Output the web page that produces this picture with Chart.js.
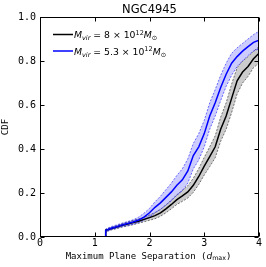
<!DOCTYPE html>
<html><head><meta charset="utf-8">
<script src="https://cdn.jsdelivr.net/npm/chart.js@4"></script>
<style>html,body{margin:0;padding:0;background:#fff;}canvas{display:block;}</style>
</head><body>
<canvas id="c" width="266" height="267" style="width:266px;height:267px"></canvas>
<script>
// ---- data ----
const chartTitle = 'NGC4945';
const xTicks = [0, 1, 2, 3, 4];
const yTicks = [0.0, 0.2, 0.4, 0.6, 0.8, 1.0];
const xs = [1.2,1.2,1.3,1.4,1.5,1.6,1.7,1.8,1.9,2.0,2.1,2.2,2.3,2.4,2.5,2.6,2.7,2.8,2.9,3.0,3.1,3.2,3.3,3.4,3.5,3.6,3.7,3.8,3.9,4.0];
const blackMid  = [0.0,0.03,0.038,0.045,0.053,0.059,0.066,0.072,0.080,0.088,0.097,0.110,0.128,0.148,0.170,0.187,0.205,0.235,0.275,0.322,0.365,0.410,0.490,0.550,0.630,0.710,0.750,0.775,0.810,0.835];
const blackLow  = [0.0,0.025,0.032,0.038,0.045,0.050,0.056,0.062,0.069,0.076,0.083,0.094,0.110,0.128,0.148,0.162,0.177,0.203,0.239,0.282,0.320,0.360,0.435,0.490,0.565,0.650,0.700,0.730,0.770,0.790];
const blackHigh = [0.0,0.035,0.044,0.052,0.061,0.068,0.076,0.082,0.091,0.100,0.111,0.126,0.146,0.168,0.192,0.212,0.233,0.267,0.311,0.362,0.410,0.460,0.545,0.610,0.695,0.770,0.800,0.820,0.845,0.865];
const blueMid   = [0.0,0.03,0.040,0.047,0.055,0.061,0.068,0.077,0.090,0.110,0.135,0.155,0.180,0.205,0.235,0.260,0.300,0.370,0.410,0.470,0.550,0.610,0.680,0.740,0.790,0.820,0.845,0.865,0.885,0.895];
const blueLow   = [0.0,0.022,0.033,0.040,0.047,0.052,0.058,0.066,0.076,0.090,0.110,0.125,0.145,0.165,0.190,0.210,0.245,0.310,0.350,0.410,0.490,0.550,0.620,0.685,0.735,0.775,0.800,0.825,0.845,0.855];
const blueHigh  = [0.0,0.036,0.047,0.055,0.063,0.070,0.078,0.090,0.108,0.130,0.160,0.185,0.215,0.245,0.280,0.310,0.355,0.425,0.470,0.530,0.610,0.670,0.735,0.790,0.835,0.860,0.880,0.900,0.920,0.935];
const seriesMass = ['8', '5.3'];
const seriesColors = ['#000000', '#0000ff'];

const pts = arr => xs.map((x, i) => ({x, y: arr[i]}));
const monoFont = '"DejaVu Sans Mono"';
const sansFont = '"DejaVu Sans"';

function richWidth(ctx, pieces){
  let w = 0;
  for (const p of pieces){ ctx.font = (p.it?'italic ':'') + p.size + 'px ' + p.fam; w += ctx.measureText(p.t).width; }
  return w;
}
function drawRich(ctx, pieces, x, base){
  for (const p of pieces){
    ctx.font = (p.it?'italic ':'') + p.size + 'px ' + p.fam;
    ctx.fillText(p.t, x, base + (p.dy||0));
    x += ctx.measureText(p.t).width;
  }
  return x;
}
function legendPieces(m){
  return [
    {t:'M', it:1, size:9.3, fam:sansFont},
    {t:'vir', it:1, size:6.5, fam:sansFont, dy:2},
    {t:' = ' + m + ' \u00d7 10', size:9.3, fam:sansFont},
    {t:'12', size:6.5, fam:sansFont, dy:-3.8},
    {t:'M', it:1, size:9.3, fam:sansFont},
    {t:'\u2299', size:6.5, fam:sansFont, dy:2}
  ];
}

const deco = {
  id: 'deco',
  afterDraw(chart){
    const {ctx, chartArea: a, scales: {x, y}} = chart;
    ctx.save();
    ctx.strokeStyle = '#000'; ctx.lineWidth = 1;
    const L = Math.round(a.left)+0.5, R = Math.round(a.right)-0.5, T = Math.round(a.top)+0.5, B = Math.round(a.bottom)-0.5;
    ctx.strokeRect(L, T, R-L, B-T);
    ctx.beginPath();
    for (const v of xTicks){
      const px = Math.round(x.getPixelForValue(v))+0.5;
      ctx.moveTo(px, B); ctx.lineTo(px, B-4);
      ctx.moveTo(px, T); ctx.lineTo(px, T+4);
    }
    for (const v of yTicks){
      const py = Math.round(y.getPixelForValue(v))+0.5;
      ctx.moveTo(L, py); ctx.lineTo(L+4, py);
      ctx.moveTo(R, py); ctx.lineTo(R-4, py);
    }
    ctx.stroke();
    ctx.fillStyle = '#000';
    // title
    ctx.font = '11.5px ' + sansFont; ctx.textAlign = 'center'; ctx.textBaseline = 'alphabetic';
    const cx = (a.left + a.right)/2;
    ctx.fillText(chartTitle, cx, 12.8);
    ctx.textAlign = 'left';
    // x label
    const xl = [
      {t:'Maximum Plane Separation (', size:9, fam:monoFont},
      {t:'d', it:1, size:9, fam:sansFont},
      {t:'max', size:6.3, fam:sansFont, dy:1.8},
      {t:')', size:9, fam:monoFont}
    ];
    drawRich(ctx, xl, cx - richWidth(ctx, xl)/2 - 1, 258.5);
    // y label
    ctx.save();
    ctx.translate(5.5, (a.top + a.bottom)/2);
    ctx.rotate(-Math.PI/2);
    ctx.font = '9px ' + monoFont; ctx.textAlign = 'center'; ctx.textBaseline = 'middle';
    ctx.fillText('CDF', 0, 0);
    ctx.restore();
    // legend
    const ly = [34.5, 51];
    seriesMass.forEach((m, i) => {
      ctx.strokeStyle = seriesColors[i]; ctx.lineWidth = 1.5;
      ctx.beginPath(); ctx.moveTo(53, ly[i]); ctx.lineTo(73, ly[i]); ctx.stroke();
      ctx.fillStyle = '#000';
      drawRich(ctx, legendPieces(m), 74, ly[i] + 3.8);
    });
    ctx.restore();
  }
};

const band = (data, color, fillColor, fill, order) => ({
  data: pts(data), borderColor: color, borderWidth: 0.7, borderDash: [2, 1.5],
  pointRadius: 0, tension: 0, fill: fill, backgroundColor: fillColor, order
});

new Chart(document.getElementById('c'), {
  type: 'line',
  data: { datasets: [
    band(blackLow, '#444444', 'rgba(0,0,0,0.2)', false, 5),
    band(blackHigh, '#444444', 'rgba(0,0,0,0.2)', '-1', 4),
    band(blueLow, '#3333ff', 'rgba(0,0,255,0.2)', false, 3),
    band(blueHigh, '#3333ff', 'rgba(0,0,255,0.2)', '-1', 2),
    { data: pts(blackMid), borderColor: seriesColors[0], borderWidth: 1.5, pointRadius: 0, fill: false, order: 1 },
    { data: pts(blueMid), borderColor: seriesColors[1], borderWidth: 1.5, pointRadius: 0, fill: false, order: 0 }
  ]},
  options: {
    responsive: false, animation: false, devicePixelRatio: 1,
    layout: { padding: { top: 17, right: 7, left: 0, bottom: 0 } },
    plugins: { legend: { display: false }, tooltip: { enabled: false }, title: { display: false } },
    scales: {
      x: { type: 'linear', min: 0, max: 4,
        afterBuildTicks: s => { s.ticks = xTicks.map(v => ({value: v})); },
        ticks: { font: { family: monoFont, size: 10 }, color: '#000', padding: 0, maxRotation: 0, callback: v => String(v) },
        grid: { display: false, drawTicks: false }, border: { display: false },
        afterFit: s => { s.height = 30; } },
      y: { min: 0, max: 1,
        afterBuildTicks: s => { s.ticks = yTicks.map(v => ({value: v})); },
        ticks: { font: { family: monoFont, size: 10 }, color: '#000', padding: 4, callback: v => v.toFixed(1) },
        grid: { display: false, drawTicks: false }, border: { display: false },
        afterFit: s => { s.height; s.width = 40; } }
    }
  },
  plugins: [deco]
});
</script>
</body></html>
